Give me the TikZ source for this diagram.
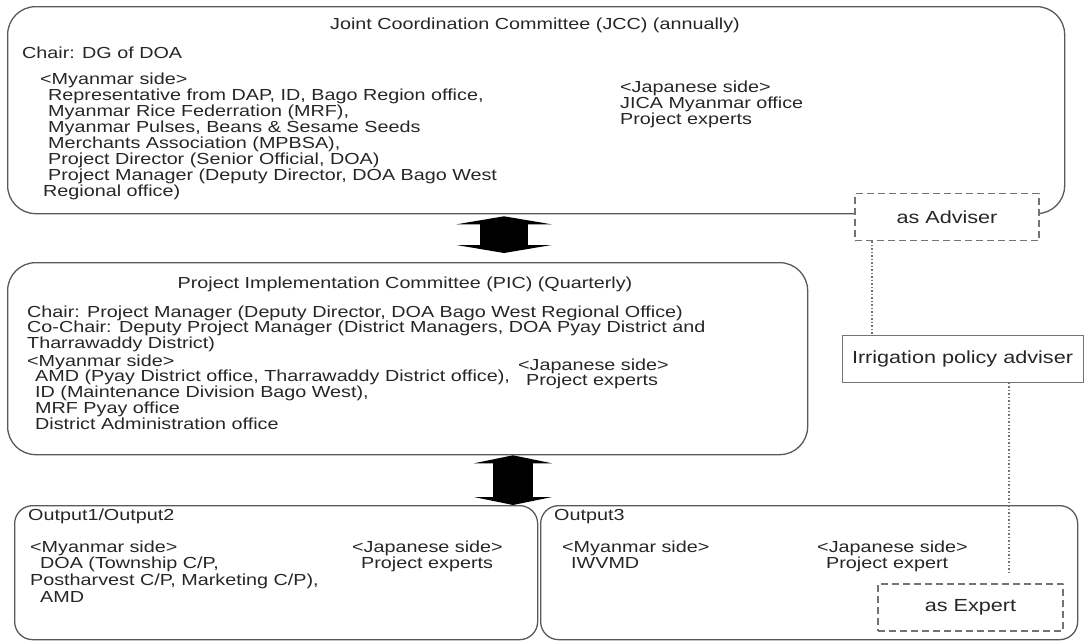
\documentclass[tikz,border=0pt]{standalone}
\usepackage{fontspec}
\setmainfont{Liberation Sans}[FakeStretch=1.235]
\usetikzlibrary{arrows.meta}

\begin{document}
\begin{tikzpicture}[x=1pt, y=-1pt, line join=round, text=black!85,
		font=\fontsize{16}{15.8}\selectfont,
		panel/.style={draw=black!65, line width=1.3pt, rounded corners=28pt, inner sep=0pt, anchor=north west},
		outbox/.style={panel, rounded corners=18pt},
		txt/.style={anchor=base west, inner sep=0pt, align=left},
		role/.style={draw=black!55, line width=1.2pt, dash pattern=on 7pt off 4pt, fill=white, inner sep=0pt,
			minimum height=47pt, font=\fontsize{17.5}{20}\selectfont},
		link/.style={draw=black!55, line width=1.2pt, dash pattern=on 1.5pt off 2pt},
		updown/.style 2 args={line width=#1, line cap=butt,
			{Triangle[length=8pt, width=#2, line width=0pt]}-{Triangle[length=8pt, width=#2, line width=0pt]}}]
	\def\W{1089} \def\H{643}
	\useasboundingbox (0,0) rectangle (\W,\H);
	%% committees
	\node[panel, minimum width=1057pt, minimum height=207pt] (jcc) at (7,6) {};
	\node[panel, minimum width=800pt, minimum height=192pt] (pic) at (7,262) {};
	\node[outbox, minimum width=523pt, minimum height=134pt] (out12) at (14,505) {};
	\node[outbox, minimum width=537pt, minimum height=134pt] (out3) at (540,505) {};
	%% JCC (base = last line)
	\node[anchor=base, inner sep=0pt] (jcct) at (535,29) {Joint Coordination Committee (JCC) (annually)};
	\node[txt] (jccchair) at (22,58) {Chair: DG of DOA};
	\node[txt, font=\fontsize{16}{16}\selectfont] (jccmm) at (40,196) {<Myanmar side>\\
		\hspace*{8pt}Representative from DAP, ID, Bago Region office,\\
		\hspace*{8pt}Myanmar Rice Federration (MRF),\\
		\hspace*{8pt}Myanmar Pulses, Beans \& Sesame Seeds\\
		\hspace*{8pt}Merchants Association (MPBSA),\\
		\hspace*{8pt}Project Director (Senior Official, DOA)\\
		\hspace*{8pt}Project Manager (Deputy Director, DOA Bago West\\
		\hspace*{3pt}Regional office)};
	\node[txt, font=\fontsize{16}{16}\selectfont] (jccjp) at (620,124) {<Japanese side>\\JICA Myanmar office\\Project experts};
	%% PIC
	\node[anchor=base, inner sep=0pt] (pict) at (405,288) {Project Implementation Committee (PIC) (Quarterly)};
	\node[txt] (picchair) at (27,348.6) {Chair: Project Manager (Deputy Director, DOA Bago West Regional Office)\\
		Co-Chair: Deputy Project Manager (District Managers, DOA Pyay District and\\
		Tharrawaddy District)};
	\node[txt] (picmm) at (27,429.2) {<Myanmar side>\\
		\hspace*{8pt}AMD (Pyay District office, Tharrawaddy District office),\\
		\hspace*{8pt}ID (Maintenance Division Bago West),\\
		\hspace*{8pt}MRF Pyay office\\
		\hspace*{8pt}District Administration office};
	\node[txt] (picjp) at (518,385.8) {<Japanese side>\\\hspace*{8pt}Project experts};
	%% outputs
	\node[txt] (out12t) at (28,520) {Output1/Output2};
	\node[txt, font=\fontsize{16}{16.8}\selectfont] (out12mm) at (30,602.4) {<Myanmar side>\\
		\hspace*{10pt}DOA (Township C/P,\\
		Postharvest C/P, Marketing C/P),\\
		\hspace*{10pt}AMD};
	\node[txt, font=\fontsize{16}{16.8}\selectfont] (out12jp) at (352,568.8) {<Japanese side>\\\hspace*{9pt}Project experts};
	\node[txt] (out3t) at (554,520) {Output3};
	\node[txt, font=\fontsize{16}{16.8}\selectfont] (out3mm) at (562,568.8) {<Myanmar side>\\\hspace*{9pt}IWVMD};
	\node[txt, font=\fontsize{16}{16.8}\selectfont] (out3jp) at (817,568.8) {<Japanese side>\\\hspace*{9pt}Project expert};
	%% adviser
	\node[role, minimum width=184pt] (adviser) at (947,217) {as Adviser};
	\node[draw=black!55, line width=1pt, inner sep=0pt, minimum width=241pt, minimum height=47pt,
		font=\fontsize{17.5}{20}\selectfont] (irr) at (962.5,358.5) {Irrigation policy adviser};
	\node[role, minimum width=185pt] (expert) at (970.5,607.5) {as Expert};
	%% connections
	\draw[updown={48pt}{95pt}, shorten <=2pt, shorten >=9pt] (504,0 |- jcc.south) -- (504,0 |- pic.north);
	\draw[updown={40pt}{78pt}] (513,0 |- pic.south) -- (513,0 |- out12.north);
	\draw[link] (872,0 |- adviser.south) -- (872,0 |- irr.north);
	\draw[link, shorten >=11pt] (1009,0 |- irr.south) -- (1009,0 |- expert.north);
\end{tikzpicture}
\end{document}
